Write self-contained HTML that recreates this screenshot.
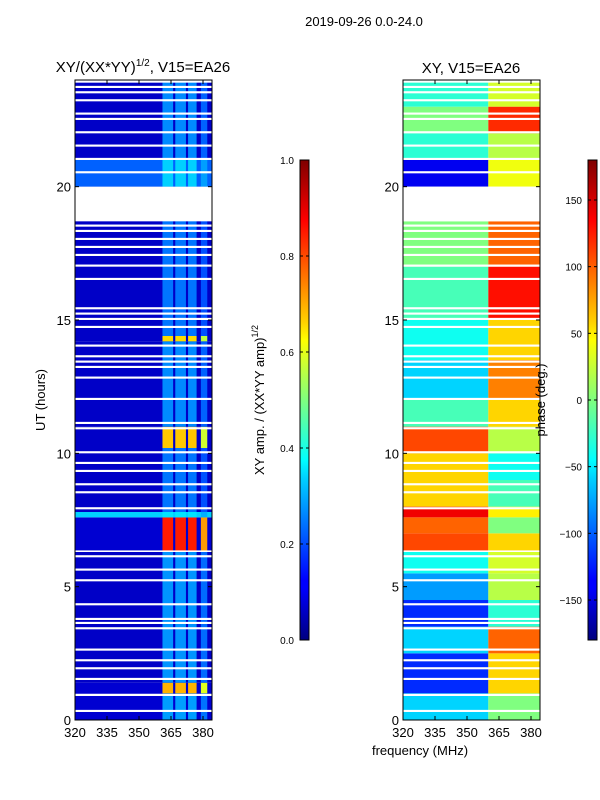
<!DOCTYPE html>
<html><head><meta charset="utf-8">
<style>
html,body{margin:0;padding:0;background:#fff;width:600px;height:800px;overflow:hidden}
svg text{font-family:"Liberation Sans","DejaVu Sans",sans-serif;fill:#000}
</style></head>
<body>
<svg id="fig" width="600" height="800" viewBox="0 0 600 800" xmlns="http://www.w3.org/2000/svg">
<defs>
<linearGradient id="jetV" x1="0" y1="1" x2="0" y2="0">
<stop offset="0" stop-color="#00007f"/><stop offset="0.11" stop-color="#0000ff"/>
<stop offset="0.125" stop-color="#0000ff"/><stop offset="0.34" stop-color="#00d4ff"/>
<stop offset="0.375" stop-color="#00ffff"/><stop offset="0.5" stop-color="#7fff7f"/>
<stop offset="0.625" stop-color="#ffff00"/><stop offset="0.66" stop-color="#ffd400"/>
<stop offset="0.875" stop-color="#ff0000"/><stop offset="1" stop-color="#7f0000"/>
</linearGradient>
</defs>
<text x="364" y="26" font-size="13" text-anchor="middle">2019-09-26 0.0-24.0</text>
<text x="143" y="72" font-size="15" text-anchor="middle">XY/(XX*YY)<tspan font-size="10" dy="-6">1/2</tspan><tspan dy="6">, V15=EA26</tspan></text>
<text x="471" y="73" font-size="15" text-anchor="middle">XY, V15=EA26</text>
<g id="amp"></g>
<g id="phs"></g>
<g id="axes"></g>
<text transform="translate(45,400) rotate(-90)" font-size="13" text-anchor="middle">UT (hours)</text>
<text x="420" y="755" font-size="13" text-anchor="middle">frequency (MHz)</text>
<rect x="300" y="160" width="9" height="480" fill="url(#jetV)" stroke="#000" stroke-width="1"/>
<rect x="588" y="160" width="9" height="480" fill="url(#jetV)" stroke="#000" stroke-width="1"/>
<text transform="translate(264,400) rotate(-90)" font-size="13" text-anchor="middle">XY amp. / (XX*YY amp)<tspan font-size="9" dy="-6">1/2</tspan></text>
<text transform="translate(545,400) rotate(-90)" font-size="13" text-anchor="middle">phase (deg.)</text>
<g id="cb"></g>
</svg>
<script>
// ---- data ----
const xTicks = [320, 335, 350, 365, 380];
const yTicks = [0, 5, 10, 15, 20];
const ampTicks = [0.0, 0.2, 0.4, 0.6, 0.8, 1.0];
const phaseTicks = [-150, -100, -50, 0, 50, 100, 150];
// white (flagged) gaps in hours
const gapStarts = [0.3,0.9,1.5,1.9,2.2,2.6,3.4,3.6,3.75,4.3,5.2,5.6,6.1,6.3,7.9,8.5,8.8,9.3,9.6,10.0,10.9,11.1,12.0,12.8,13.2,13.4,13.6,14.0,14.7,15.0,15.2,15.4,16.5,17.0,17.4,17.7,18.0,18.3,18.5,18.7,20.5,21.0,21.5,22.0,22.5,22.7,23.2,23.5,23.7,23.9];
const gapEnds   = [0.38,0.98,1.58,1.98,2.28,2.68,3.48,3.68,3.83,4.38,5.28,5.68,6.18,6.36,7.98,8.58,8.88,9.38,9.68,10.08,10.98,11.18,12.08,12.88,13.28,13.48,13.68,14.08,14.78,15.08,15.28,15.48,16.58,17.08,17.48,17.78,18.08,18.38,18.58,20.0,20.58,21.08,21.58,22.08,22.58,22.78,23.28,23.58,23.78,23.98];
// amplitude: channel bands (MHz) and row segments
const bandLo = [361, 367, 373, 379];
const bandHi = [366, 372, 377, 382];
const ampSegStart = [0, 1.0, 1.4, 6.3, 7.6, 7.8, 10.2, 11.0, 14.2, 14.4, 20.0, 21.0];
const ampSegEnd   = [1.0, 1.4, 6.3, 7.6, 7.8, 10.2, 11.0, 14.2, 14.4, 20.0, 21.0, 24.0];
const ampBackground = [0.08,0.08,0.07,0.08,0.33,0.07,0.07,0.07,0.07,0.07,0.22,0.07];
const ampBand       = [0.28,0.70,0.27,0.85,0.35,0.24,0.68,0.26,0.66,0.24,0.33,0.26];
// phase: row segments with low-band (<360 MHz) and high-band phases
const phSegStart = [0,1,2.5,3.5,4.5,5.5,6.3,7.0,7.6,8,9,10,11,12,13.5,15,17,20,21,22,23];
const phSegEnd   = [1,2.5,3.5,4.5,5.5,6.3,7.0,7.6,8,9,10,11,12,13.5,15,17,18.7,21,22,23,24];
const phLow  = [-60,-120,-60,-120,-80,-40,110,100,140,60,60,110,-20,-60,-40,-20,0,-140,-30,0,-30];
const phHigh = [0,60,100,-30,20,30,60,0,50,-20,-40,20,60,90,60,130,100,40,20,120,30];

// ---- scales ----
const Y0=720, PXH=(720-80)/24;
const yS = h => Y0 - h*PXH;
const PXM = 32/15;
const xA = f => 75 + (f-320)*PXM;
const xP = f => 403 + (f-320)*PXM;
const FMAX = 320 + 137/PXM;
const NS='http://www.w3.org/2000/svg';
function jet(v){v=Math.max(0,Math.min(1,v));
 const c=t=>Math.round(255*Math.max(0,Math.min(1,1.5-Math.abs(4*v-t))));
 return `rgb(${c(3)},${c(2)},${c(1)})`;}
function rect(g,x,y,w,h,fill){const r=document.createElementNS(NS,'rect');
 r.setAttribute('x',x);r.setAttribute('y',y);r.setAttribute('width',w);r.setAttribute('height',h);r.setAttribute('fill',fill);g.appendChild(r);return r;}

const amp=document.getElementById('amp');
for(let i=0;i<ampSegStart.length;i++){
 const y=yS(ampSegEnd[i]),h=yS(ampSegStart[i])-y;
 const bg=rect(amp,xA(320),y,137,h,jet(ampBackground[i]));
 
 
 for(let b=0;b<bandLo.length;b++){
  const r=rect(amp,xA(bandLo[b]),y,(bandHi[b]-bandLo[b])*PXM,h,jet(ampBand[i]*(b===3?0.85:1)));
  
  
 }
}
const phs=document.getElementById('phs');
const pn=p=>(p+180)/360;
for(let i=0;i<phSegStart.length;i++){
 const y=yS(phSegEnd[i]),h=yS(phSegStart[i])-y;
 const a=rect(phs,xP(320),y,(360-320)*PXM,h,jet(pn(phLow[i])));
 
 
 const b=rect(phs,xP(360),y,(FMAX-360)*PXM,h,jet(pn(phHigh[i])));
 
 
}
for(let i=0;i<gapStarts.length;i++){
 const y=yS(gapEnds[i]),h=yS(gapStarts[i])-y;
 const g1=rect(amp,75,y,137,h,'#fff');
 
 
 const g2=rect(phs,403,y,137,h,'#fff');
 
 
}
// axes
const ax=document.getElementById('axes');
function line(g,x1,y1,x2,y2){const l=document.createElementNS(NS,'line');
 l.setAttribute('x1',x1);l.setAttribute('y1',y1);l.setAttribute('x2',x2);l.setAttribute('y2',y2);
 l.setAttribute('stroke','#000');l.setAttribute('stroke-width','1');g.appendChild(l);return l;}
function text(g,x,y,s,anchor,size){const t=document.createElementNS(NS,'text');
 t.setAttribute('x',x);t.setAttribute('y',y);t.setAttribute('font-size',size);t.setAttribute('text-anchor',anchor);
 t.textContent=s;g.appendChild(t);return t;}
[[75,xA],[403,xP]].forEach(([x0,xs])=>{
 const fr=document.createElementNS(NS,'rect');
 fr.setAttribute('x',x0);fr.setAttribute('y',80);fr.setAttribute('width',137);fr.setAttribute('height',640);
 fr.setAttribute('fill','none');fr.setAttribute('stroke','#000');
 
 
 ax.appendChild(fr);
 xTicks.forEach(v=>{const x=xs(v);line(ax,x,720,x,716);line(ax,x,80,x,84);
  const t=text(ax,x,737,String(v),'middle',13);
  
  });
 yTicks.forEach(v=>{const y=yS(v);line(ax,x0,y,x0+4,y);line(ax,x0+137,y,x0+133,y);
  const t=text(ax,x0-4,y+5,String(v),'end',13);
  
  });
});
const cb=document.getElementById('cb');
ampTicks.forEach(v=>{const y=640-v*480;line(cb,300,y,303,y);line(cb,309,y,306,y);
 const t=text(cb,294,y+4,v.toFixed(1),'end',10);
 
 });
phaseTicks.forEach(v=>{const y=400-v*480/360;line(cb,588,y,591,y);line(cb,597,y,594,y);
 const t=text(cb,582,y+4,v<0?'\u2212'+(-v):String(v),'end',10);
 
 });
</script>
</body></html>
